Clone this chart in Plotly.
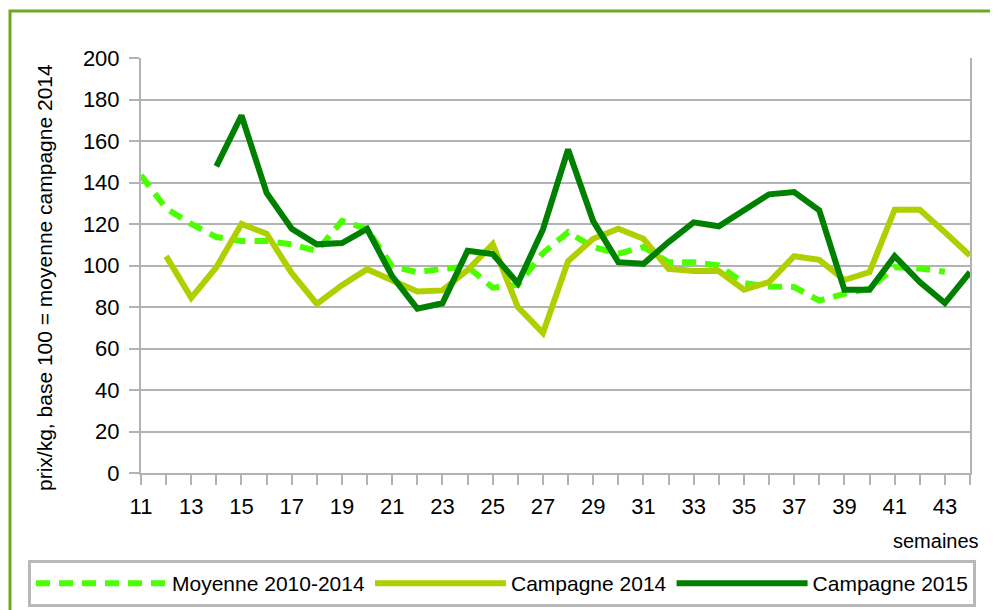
import plotly.graph_objects as go

semaines = list(range(11, 45))
tick_vals = list(range(11, 44, 2))
tick_text = [str(v) for v in tick_vals]

moyenne_2010_2014 = [143.5, 127.5, 120, 113.7, 111.8, 111.8, 110.2, 107, 121.5, 117.6,
                     99.5, 96.8, 98.4, 99.5, 89.3, 90.6, 106, 116.1, 108.9, 105.7,
                     108.9, 101.6, 101.6, 100, 91.5, 89.9, 89.6, 83.1, 86.4, 88.8,
                     99.2, 98.6, 97, None]
campagne_2014 = [None, 104.5, 84.4, 99.2, 120, 115.3, 96.3, 81.5, 90.5, 98.2,
                 93.2, 87.5, 88, 97.8, 110.3, 80, 67.5, 102.1, 112.9, 117.7,
                 112.9, 98.4, 97.3, 97.3, 88.3, 92, 104.5, 102.7, 93, 96.8,
                 126.9, 126.9, 116, 104.8]
campagne_2015 = [None, None, None, 147.8, 172.3, 135, 117.7, 110.2, 110.8, 117.6,
                 94.8, 79.2, 81.8, 107.1, 105.5, 91.4, 117.4, 155.9, 121.4, 101.6,
                 100.8, 111.3, 120.8, 118.9, 126.3, 134.3, 135.4, 126.6, 88.3, 88.3,
                 104.5, 92, 81.9, 96.8]

series_names = ["Moyenne 2010-2014", "Campagne 2014", "Campagne 2015"]
series_colors = ["#4cff00", "#afd000", "#008000"]

FONT = "Liberation Sans, Arial, sans-serif"

fig = go.Figure()
fig.add_trace(go.Scatter(x=semaines, y=moyenne_2010_2014, name=series_names[0], mode="lines",
                         line=dict(color=series_colors[0], width=6, dash="14px,9px")))
fig.add_trace(go.Scatter(x=semaines, y=campagne_2014, name=series_names[1], mode="lines",
                         line=dict(color=series_colors[1], width=6)))
fig.add_trace(go.Scatter(x=semaines, y=campagne_2015, name=series_names[2], mode="lines",
                         line=dict(color=series_colors[2], width=6)))

OFF = 8  # page body margin
W, H = 990, 602
L, T = 141 - OFF, 58 - OFF
R = W - (970 - OFF)
B = H - (473 - OFF)
pw, ph = W - L - R, H - T - B

def px_x(p):
    return (p - OFF - L) / pw

def px_y(p):
    return (H - B - (p - OFF)) / ph

fig.update_layout(
    width=W, height=H,
    margin=dict(l=L, r=R, t=T, b=B, autoexpand=False),
    paper_bgcolor="white", plot_bgcolor="white",
    font=dict(family=FONT, size=21, color="#000000"),
    showlegend=True,
    legend=dict(orientation="h", x=px_x(28), xanchor="left", y=px_y(560), yanchor="top",
                bordercolor="#b8b8b8", borderwidth=3, bgcolor="white",
                font=dict(family=FONT, size=21), itemwidth=131, tracegroupgap=0),
    xaxis=dict(range=[11, 44], tickmode="array", tickvals=tick_vals, ticktext=tick_text,
               ticks="outside", ticklen=10, tickcolor="#b3b3b3", tickwidth=2,
               showline=True, linecolor="#b3b3b3", linewidth=2, mirror=False,
               showgrid=False, zeroline=False, ticklabelstandoff=3, automargin=False,
               tickfont=dict(family=FONT, size=22),
               minor=dict(dtick=1, tick0=11, ticks="outside", ticklen=10,
                          tickcolor="#b3b3b3", tickwidth=2, showgrid=False)),
    yaxis=dict(range=[0, 200], dtick=20, ticks="outside", ticklen=10, tickcolor="#b3b3b3",
               tickwidth=2, showline=True, linecolor="#b3b3b3", linewidth=2, mirror=True,
               showgrid=True, gridcolor="#b3b3b3", gridwidth=2, zeroline=False,
               ticklabelstandoff=5, automargin=False, tickfont=dict(family=FONT, size=22)),
    shapes=[dict(type="rect", xref="paper", yref="paper",
                 x0=px_x(10), x1=px_x(1010), y0=px_y(625), y1=px_y(11),
                 line=dict(color="#6aaa22", width=3), fillcolor="rgba(0,0,0,0)", layer="below")],
    annotations=[
        dict(text="prix/kg, base 100 = moyenne campagne 2014", textangle=-90,
             xref="paper", yref="paper", x=px_x(44), y=px_y(278), xanchor="center",
             yanchor="middle", showarrow=False, font=dict(family=FONT, size=21)),
        dict(text="semaines", xref="paper", yref="paper", x=px_x(981), y=px_y(541),
             xanchor="right", yanchor="middle", showarrow=False, font=dict(family=FONT, size=20)),
    ],
)

fig.write_html("out.html")
